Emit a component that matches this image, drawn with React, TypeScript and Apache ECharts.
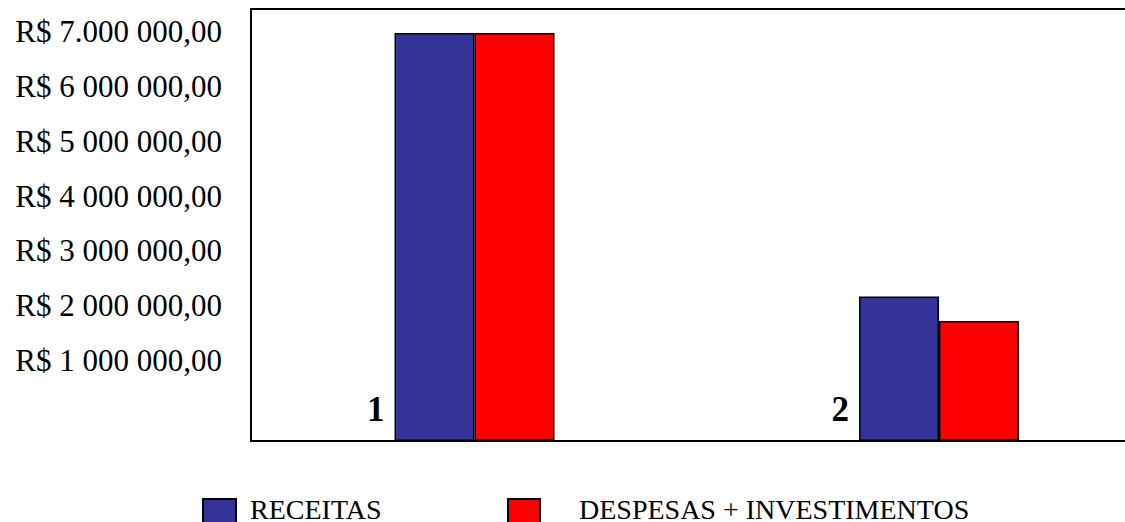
import React, { useEffect, useRef } from "react";
import * as echarts from "echarts";

const categories = ["1", "2"];
const receitas = [7000000, 2480000];
const despesas = [7000000, 2060000];
const tickValues = [1000000, 2000000, 3000000, 4000000, 5000000, 6000000, 7000000];
const tickLabels = [
  "R$ 1 000 000,00",
  "R$ 2 000 000,00",
  "R$ 3 000 000,00",
  "R$ 4 000 000,00",
  "R$ 5 000 000,00",
  "R$ 6 000 000,00",
  "R$ 7.000 000,00",
];

const FONT = "'Liberation Serif', 'Times New Roman', serif";

export default function App() {
  const ref = useRef<HTMLDivElement>(null);
  useEffect(() => {
    if (!ref.current) return;
    const chart = echarts.init(ref.current, null, { renderer: "svg" });
    const frameLine = { show: true, onZero: false, lineStyle: { color: "#000000", width: 2, cap: "square" } };
    const legendText = (padLeft: number) => ({
      fontSize: 28,
      fontFamily: FONT,
      color: "#000000",
      rich: {
        t: {
          fontSize: 28,
          lineHeight: 28,
          fontFamily: FONT,
          color: "#000000",
          padding: [0, 0, 13, padLeft],
        },
      },
    });
    chart.setOption({
      animation: false,
      backgroundColor: "#ffffff",
      grid: [
        {
          left: 251,
          right: 0,
          top: 9,
          bottom: 81,
          outerBoundsMode: "none",
          containLabel: false,
        },
        {
          left: 242.25,
          width: 929,
          top: 9,
          bottom: 81,
          outerBoundsMode: "none",
          containLabel: false,
        },
      ],
      xAxis: [
        {
          gridIndex: 0, type: "value", min: 0, max: 1, position: "bottom",
          axisLine: frameLine, axisTick: { show: false }, axisLabel: { show: false }, splitLine: { show: false },
        },
        { gridIndex: 1, type: "category", data: categories, show: false },
        {
          gridIndex: 0, type: "value", min: 0, max: 1, position: "top",
          axisLine: frameLine, axisTick: { show: false }, axisLabel: { show: false }, splitLine: { show: false },
        },
      ],
      yAxis: [
        {
          gridIndex: 0,
          type: "value",
          min: -475000,
          max: 7420000,
          axisLine: frameLine,
          axisTick: { show: false },
          splitLine: { show: false },
          axisLabel: {
            customValues: tickValues,
            margin: 29,
            fontSize: 31,
            fontFamily: FONT,
            color: "#000000",
            formatter: (v: number) => {
              const i = tickValues.indexOf(v);
              return i >= 0 ? tickLabels[i] : "";
            },
          },
        },
        {
          gridIndex: 1,
          type: "value",
          min: 0,
          max: 7410000,
          show: false,
        },
      ],
      legend: [
        {
          data: ["RECEITAS"],
          left: 202,
          top: 495,
          padding: 0,
          itemWidth: 33,
          itemHeight: 33,
          icon: "rect",
          formatter: (name: string) => `{t|${name}}`,
          textStyle: legendText(9),
        },
        {
          data: ["DESPESAS + INVESTIMENTOS"],
          left: 507,
          top: 495,
          padding: 0,
          itemWidth: 32,
          itemHeight: 33,
          icon: "rect",
          formatter: (name: string) => `{t|${name}}`,
          textStyle: legendText(34),
        },
      ],
      series: [
        {
          name: "RECEITAS",
          type: "bar",
          xAxisIndex: 1,
          yAxisIndex: 1,
          data: receitas,
          barWidth: 80,
          barGap: "0%",
          itemStyle: { color: "#333399", borderColor: "#000000", borderWidth: 1.5 },
          label: {
            show: true,
            formatter: "{b}",
            position: [-10, "100%"],
            align: "right",
            verticalAlign: "bottom",
            offset: [0, -14],
            fontSize: 35,
            fontWeight: "bold",
            fontFamily: FONT,
            color: "#000000",
          },
        },
        {
          name: "DESPESAS + INVESTIMENTOS",
          type: "bar",
          xAxisIndex: 1,
          yAxisIndex: 1,
          data: despesas,
          barWidth: 80,
          barGap: "0%",
          itemStyle: { color: "#FF0000", borderColor: "#000000", borderWidth: 1.5 },
        },
      ],
    });
    return () => chart.dispose();
  }, []);
  return <div ref={ref} style={{ width: 1125, height: 522, position: "absolute", left: 0, top: 0 }} />;
}
